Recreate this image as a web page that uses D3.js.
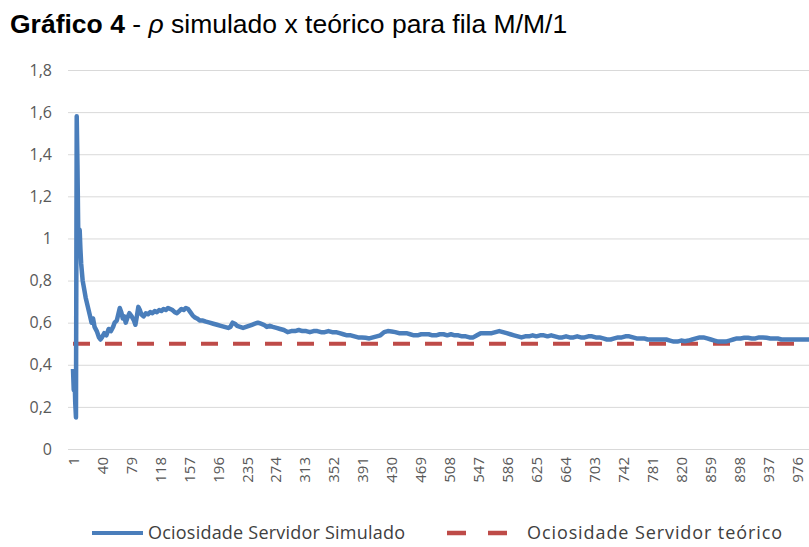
<!DOCTYPE html>
<html>
<head>
<meta charset="utf-8">
<script src="https://cdn.jsdelivr.net/npm/d3@7"></script>
<style>
  body { margin: 0; background: #fff; }
  svg { display: block; }
</style>
</head>
<body>
<div id="chart"></div>
<script>
const width = 809
const height = 547

const obsIndex = [1, 2, 3, 4, 5, 6, 7, 8, 9, 10, 11, 12, 14, 16, 18, 20, 22, 24, 26, 28, 30, 33, 36, 38, 40,
  43, 46, 49, 52, 55, 57, 60, 62, 64, 66, 68, 70, 72, 75, 77, 80, 83, 85, 87, 89, 91, 93, 96, 99,
  102, 105, 108, 111, 114, 117, 120, 123, 126, 129, 132, 135, 138, 141, 144, 147, 150, 153, 156, 159,
  162, 165, 168, 172, 176, 180, 185, 190, 195, 200, 205, 210, 213, 216, 219, 222, 226, 230, 234, 238,
  242, 246, 250, 254, 258, 262, 266, 270, 275, 280, 285, 290, 295, 300, 305, 310, 315, 320, 325, 330,
  335, 340, 345, 350, 355, 360, 365, 370, 375, 380, 385, 390, 395, 400, 405, 410, 415, 420, 425, 430,
  435, 440, 445, 450, 455, 460, 465, 470, 475, 480, 485, 490, 495, 500, 505, 510, 515, 520, 525, 530,
  535, 540, 545, 550, 555, 560, 565, 570, 575, 580, 585, 590, 595, 600, 605, 610, 615, 620, 625, 630,
  635, 640, 645, 650, 655, 660, 665, 670, 675, 680, 685, 690, 695, 700, 705, 710, 715, 720, 725, 730,
  735, 740, 745, 750, 755, 760, 765, 770, 775, 780, 785, 790, 795, 800, 805, 810, 815, 820, 825, 830,
  835, 840, 845, 850, 855, 860, 865, 870, 875, 880, 885, 890, 895, 900, 905, 910, 915, 920, 925, 930,
  935, 940, 945, 950, 955, 960, 965, 970, 975, 980, 985, 990, 995, 1000]
const rhoSimulado = [0.38, 0.28, 0.36, 0.22, 0.15, 1.58, 1.35, 1.05, 0.97, 1.04, 0.95, 0.88, 0.8, 0.76, 0.72, 0.69, 0.66, 0.63, 0.6, 0.62, 0.58, 0.56, 0.53, 0.52, 0.53,
  0.55, 0.54, 0.57, 0.56, 0.58, 0.6, 0.61, 0.64, 0.67, 0.65, 0.62, 0.63, 0.6, 0.63, 0.645, 0.63, 0.61, 0.59, 0.63, 0.675, 0.66, 0.64, 0.63, 0.645,
  0.64, 0.65, 0.645, 0.655, 0.65, 0.66, 0.655, 0.665, 0.66, 0.67, 0.665, 0.66, 0.65, 0.645, 0.655, 0.665, 0.66, 0.67, 0.665, 0.65,
  0.635, 0.625, 0.62, 0.61, 0.61, 0.605, 0.6, 0.595, 0.59, 0.585, 0.58, 0.575, 0.58, 0.6, 0.595, 0.585, 0.58, 0.575, 0.58, 0.585,
  0.59, 0.595, 0.6, 0.595, 0.59, 0.58, 0.585, 0.58, 0.575, 0.57, 0.565, 0.555, 0.56, 0.56, 0.565, 0.56, 0.56, 0.555, 0.56, 0.56,
  0.555, 0.555, 0.56, 0.555, 0.555, 0.55, 0.545, 0.54, 0.54, 0.535, 0.53, 0.53, 0.528, 0.525, 0.53, 0.535, 0.54, 0.555, 0.56, 0.558,
  0.555, 0.55, 0.55, 0.55, 0.545, 0.54, 0.54, 0.545, 0.545, 0.545, 0.54, 0.54, 0.545, 0.545, 0.54, 0.545, 0.54, 0.54, 0.535, 0.535,
  0.53, 0.53, 0.54, 0.55, 0.55, 0.55, 0.55, 0.555, 0.56, 0.555, 0.55, 0.545, 0.54, 0.535, 0.53, 0.535, 0.535, 0.54, 0.535, 0.54,
  0.54, 0.535, 0.54, 0.535, 0.53, 0.53, 0.535, 0.53, 0.53, 0.535, 0.53, 0.53, 0.535, 0.535, 0.53, 0.53, 0.525, 0.52, 0.52, 0.525,
  0.53, 0.53, 0.535, 0.535, 0.53, 0.525, 0.525, 0.525, 0.52, 0.52, 0.52, 0.52, 0.52, 0.52, 0.515, 0.51, 0.51, 0.515, 0.512, 0.515,
  0.52, 0.525, 0.53, 0.53, 0.525, 0.52, 0.515, 0.51, 0.51, 0.51, 0.515, 0.52, 0.525, 0.525, 0.528, 0.528, 0.525, 0.525, 0.53, 0.53,
  0.528, 0.525, 0.525, 0.525, 0.52, 0.52, 0.52, 0.52, 0.52, 0.52, 0.52, 0.52, 0.52, 0.52]
const rhoTeorico = 0.5

const xTickLabels = [1, 40, 79, 118, 157, 196, 235, 274, 313, 352, 391, 430, 469, 508, 547, 586,
  625, 664, 703, 742, 781, 820, 859, 898, 937, 976]
const yTickLabels = [0, 0.2, 0.4, 0.6, 0.8, 1, 1.2, 1.4, 1.6, 1.8]
const seriesNames = ["Ociosidade Servidor Simulado", "Ociosidade Servidor teórico"]

const blue = "#4a7ebb"
const red = "#be4b48"
const plotLeft = 68

const svg = d3.select("#chart").append("svg")
    .attr("width", width)
    .attr("height", height)

// title
const title = svg.append("text")
    .attr("x", 10)
    .attr("y", 33)
    .style("font-family", "'Liberation Sans', Arial, sans-serif")
    .style("font-size", "26.5px")
    .attr("fill", "#000")
title.append("tspan").style("font-weight", "bold").text("Gráfico 4")
title.append("tspan").text(" - ")
title.append("tspan").style("font-style", "italic").text("ρ")
title.append("tspan").text(" simulado x teórico para fila M/M/1")

const x = d3.scaleLinear().domain([1, 976]).range([73, 797])
const y = d3.scaleLinear().domain([0, 1.8]).range([449, 70])

// y axis with gridlines
const yAxis = svg.append("g")
    .attr("transform", `translate(${plotLeft},0)`)
    .call(d3.axisLeft(y)
        .tickValues(yTickLabels)
        .tickSize(-(width - plotLeft))
        .tickPadding(16)
        .tickFormat(d => String(d).replace(".", ",")))
yAxis.select(".domain").remove()
yAxis.selectAll(".tick line").attr("stroke", "#d9d9d9")
yAxis.selectAll(".tick text")
    .style("font-family", "'Open Sans', sans-serif")
    .style("font-size", "16px")
    .attr("fill", "#595959")

// x axis labels
const xAxis = svg.append("g")
    .attr("transform", `translate(0,${y(0)})`)
    .call(d3.axisBottom(x).tickValues(xTickLabels).tickSize(0))
xAxis.select(".domain").remove()
xAxis.selectAll(".tick text")
    .attr("transform", "rotate(-90)")
    .attr("x", -8)
    .attr("y", 0)
    .attr("dy", "0.35em")
    .attr("text-anchor", "end")
    .style("font-family", "'Open Sans', sans-serif")
    .style("font-size", "15px")
    .attr("fill", "#595959")

const simData = obsIndex.map((d, i) => ({ i: d, v: rhoSimulado[i] }))
const line = d3.line().x(d => x(d.i)).y(d => y(d.v))

// theoretical line (dashed)
svg.append("path")
    .datum(obsIndex.map(d => ({ i: d, v: rhoTeorico })))
    .attr("d", line)
    .attr("fill", "none")
    .attr("stroke", red)
    .attr("stroke-width", 4)
    .attr("stroke-dasharray", "17,15")

// simulated line
svg.append("path")
    .datum(simData)
    .attr("d", line)
    .attr("fill", "none")
    .attr("stroke", blue)
    .attr("stroke-width", 4.5)
    .attr("stroke-linejoin", "round")

// legend
const legend = svg.append("g")
    .style("font-family", "'Open Sans', sans-serif")
    .style("font-size", "18px")
    .attr("fill", "#404040")
legend.append("line")
    .attr("x1", 92).attr("x2", 143).attr("y1", 533).attr("y2", 533)
    .attr("stroke", blue).attr("stroke-width", 4)
legend.append("text").attr("x", 148).attr("y", 533).attr("dy", "0.35em")
    .attr("textLength", 257).attr("lengthAdjust", "spacing")
    .text(seriesNames[0])
legend.append("line")
    .attr("x1", 447).attr("x2", 507).attr("y1", 533).attr("y2", 533)
    .attr("stroke", red).attr("stroke-width", 4.5)
    .attr("stroke-dasharray", "19,22")
legend.append("text").attr("x", 527).attr("y", 533).attr("dy", "0.35em")
    .attr("textLength", 255).attr("lengthAdjust", "spacing")
    .text(seriesNames[1])
</script>
</body>
</html>
